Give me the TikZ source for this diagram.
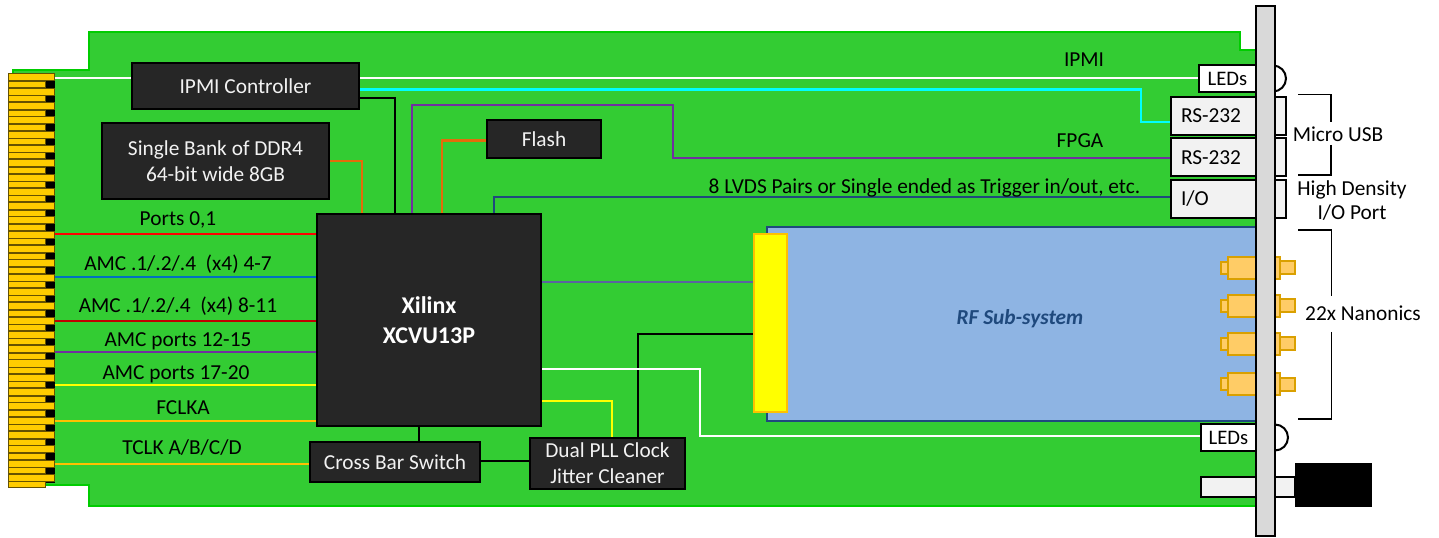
\documentclass[tikz,border=0pt]{standalone}
\usepackage{fontspec}
\setmainfont{Carlito}
\definecolor{myboard}{RGB}{51, 204, 51}
\definecolor{myedge}{RGB}{0, 204, 0}
\definecolor{mydark}{RGB}{38, 38, 38}
\definecolor{mygold}{RGB}{255, 192, 0}
\definecolor{myfinger}{RGB}{255, 204, 0}
\definecolor{mypurple}{RGB}{112, 48, 160}
\definecolor{myorange}{RGB}{228, 108, 10}
\definecolor{mynavy}{RGB}{31, 73, 125}
\definecolor{myrf}{RGB}{142, 180, 227}
\definecolor{mysma}{RGB}{255, 204, 102}
\definecolor{mysmaline}{RGB}{218, 160, 0}
\definecolor{myport}{RGB}{242, 242, 242}
\definecolor{mypanel}{RGB}{217, 217, 217}
\definecolor{mycyan}{RGB}{0, 255, 255}
\definecolor{myyellow}{RGB}{255, 255, 0}
\definecolor{myred}{RGB}{255, 0, 0}
\tikzset{every picture/.style={line width=0.75pt}}
\tikzset{
  labeltext/.style={inner sep=0.75pt,font=\fontsize{16}{19.5}\selectfont,align=center},
  darkbox/.style={draw=black,line width=1.5pt,fill=mydark,text=myport,inner sep=0pt,font=\fontsize{16}{19.5}\selectfont,align=center},
  portbox/.style={draw=black,line width=1.5pt,fill=myport,inner xsep=7.5pt,inner ysep=0pt,text width=71.25pt,align=left,minimum height=28.5pt,font=\fontsize{16}{19.5}\selectfont},
  ledbox/.style={draw=black,line width=1.5pt,fill=white,inner sep=0pt,font=\fontsize{15.5}{18}\selectfont},
  bus/.style={line width=2.1pt},
  thinbus/.style={line width=1.6pt},
  bracket/.style={line width=0.9pt},
  smapart/.style={draw=mysmaline,fill=mysma,line width=1.5pt}
}

\begin{document}
\begin{tikzpicture}[x=0.75pt,y=0.75pt,yscale=-1,xscale=1]
\useasboundingbox (0,0) rectangle (1439,538);

%Shape: Board
\draw [draw=myedge,fill=myboard,line width=2pt] (13,70) -- (89,70) -- (89,32) -- (1240,32) -- (1240,50) -- (1260,50) -- (1260,506) -- (89,506) -- (89,485) -- (13,485) -- cycle ;

%Shape: Card edge
\draw (31,278.5) node [draw=black,fill=black,minimum width=34.5pt,minimum height=306.5pt,inner sep=0pt] (cardedge) {};
\foreach \y in {74,88.3,...,475} {
  \draw [draw=black!60!myfinger,fill=myfinger] (8,\y) rectangle (54,\y+7);
  \draw [draw=black!60!myfinger,fill=myfinger] (8,\y+7.5) rectangle (45,\y+13.5);
}

%Shape: RF board
\draw (1011.5,324) node [draw=mynavy,fill=myrf,line width=1.5pt,minimum width=366.75pt,minimum height=145.5pt,inner sep=0pt] (rf) {};
\draw (1020,319) node [labeltext,text=mynavy,font=\fontsize{16}{19.5}\selectfont\bfseries\itshape] (rflabel) {RF Sub-system};
\draw (770.5,323) node [draw=mygold,fill=myyellow,line width=1.9pt,minimum width=24.75pt,minimum height=133.5pt,inner sep=0pt] (rfconn) {};

%Shape: SMA connectors
\foreach \y in {268,306,344,384} {
  \draw [smapart] (1220.5,\y-6) rectangle (1228,\y+6);
  \draw [smapart] (1228,\y-11) rectangle (1258,\y+11);
  \draw [smapart] (1273,\y-11) rectangle (1280,\y+11);
  \draw [smapart] (1280,\y-6.5) rectangle (1295,\y+6.5);
}

%Shape: Blocks
\draw (429,320) node [darkbox,minimum width=168pt,minimum height=159pt] (fpga) {};
\draw (245.5,86) node [darkbox,minimum width=170.25pt,minimum height=34.5pt] (ipmi) {IPMI Controller};
\draw (215.5,161) node [darkbox,minimum width=170.25pt,minimum height=57pt] (ddr) {Single Bank of DDR4\\64-bit wide 8GB};
\draw (544,139) node [darkbox,minimum width=85.5pt,minimum height=28.5pt] (flash) {Flash};
\draw (395,462) node [darkbox,minimum width=127.5pt,minimum height=30pt] (xbar) {Cross Bar Switch};
\draw (607.5,463.5) node [darkbox,minimum width=116.25pt,minimum height=38.25pt] (pll) {Dual PLL Clock\\Jitter Cleaner};

%Shape: LEDs and ports
\draw [line width=1.5pt,fill=white] (1273,78.5) circle [radius=13];
\draw [line width=1.5pt,fill=white] (1275,437.5) circle [radius=13];
\draw (1227.5,78.5) node [ledbox,minimum width=42.75pt,minimum height=20.25pt] (ledtop) {LEDs};
\draw (1228.5,437.5) node [ledbox,minimum width=41.25pt,minimum height=20.25pt] (ledbot) {LEDs};
\draw (1228.5,116) node [portbox] (rsa) {RS-232};
\draw (1228.5,157.5) node [portbox] (rsb) {RS-232};
\draw (1228.5,199) node [portbox] (iop) {I/O};

%Shape: Latch
\draw (1248,487) node [draw=black,fill=myport,line width=1.1pt,minimum width=70.5pt,minimum height=15pt,inner sep=0pt] (latch) {};
\draw (1333.5,484.5) node [draw=black,fill=black,minimum width=57pt,minimum height=32.25pt,inner sep=0pt] (handle) {};

%Straight Lines: edge to FPGA
\draw [bus,white] (cardedge.east |- 0,78) -- (ipmi.west |- 0,78) ;
\draw [bus,myred] (cardedge.east |- 0,234) -- (fpga.west |- 0,234) ;
\draw [bus,color={rgb, 255:red, 0; green, 112; blue, 192}] (cardedge.east |- 0,277) -- (fpga.west |- 0,277) ;
\draw [bus,color={rgb, 255:red, 192; green, 0; blue, 0}] (cardedge.east |- 0,321) -- (fpga.west |- 0,321) ;
\draw [bus,mypurple] (cardedge.east |- 0,352) -- (fpga.west |- 0,352) ;
\draw [bus,myyellow] (cardedge.east |- 0,385) -- (fpga.west |- 0,385) ;
\draw [bus,mygold] (cardedge.east |- 0,421) -- (fpga.west |- 0,421) ;
\draw [bus,mygold] (cardedge.east |- 0,464) -- (xbar.west |- 0,464) ;

%Straight Lines: blocks to FPGA
\draw [bus,myorange] (ddr.east |- 0,161) -| (fpga.north -| 362,0) ;
\draw [bus,black] (ipmi.east |- 0,98) -| (fpga.north -| 395,0) ;
\draw [bus,myorange] (flash.west |- 0,140.5) -| (fpga.north -| 442,0) ;
\draw [bus,black] (fpga.south -| 419,0) -- (xbar.north -| 419,0) ;
\draw [bus,black] (xbar.east |- 0,461) -- (pll.west |- 0,461) ;
\draw [thinbus,color={rgb, 255:red, 90; green, 100; blue, 160}] (fpga.east |- 0,282) -- (rfconn.west |- 0,282) ;
\draw [bus,black] (pll.north -| 638,0) |- (rfconn.west |- 0,334) ;
\draw [thinbus,myyellow] (fpga.east |- 0,401) -| (pll.north -| 612,0) ;

%Straight Lines: to the front panel
\draw [bus,white] (ipmi.east |- 0,78) -- (ledtop.west |- 0,78) ;
\draw [thinbus,mycyan] (ipmi.east |- 0,89.5) -- (1141,89.5) |- (rsa.west |- 0,122) ;
\draw [thinbus,mypurple] (fpga.north -| 412,0) |- (673,105) |- (rsb.west |- 0,158) ;
\draw [thinbus,mynavy] (fpga.north -| 494,0) |- (iop.west |- 0,197) ;
\draw [bus,white] (fpga.east |- 0,369) -- (700,369) |- (ledbot.west |- 0,436) ;

%Shape: Front panel
\draw (1265.5,271) node [draw=black,fill=mypanel,line width=1.5pt,minimum width=14.25pt,minimum height=397.5pt,inner sep=0pt] (panel) {};

%Straight Lines: brackets
\coordinate (usbtop) at (1298,94.5);
\coordinate (usbbot) at (1298,175);
\coordinate (nanotop) at (1298,230);
\coordinate (nanobot) at (1298,419);
\draw [bracket] (usbtop) -| (1331,122) ;
\draw [bracket] (1331,145) |- (usbbot) ;
\draw [bracket] (nanotop) -| (1331.5,296) ;
\draw [bracket] (1331.5,332) |- (nanobot) ;

% Text Node
\draw (178,220) node [labeltext] (lblports) {Ports 0,1};
% Text Node
\draw (178,264) node [labeltext] (lblamca) {AMC .1/.2/.4\ \ (x4) 4-7};
% Text Node
\draw (178,306) node [labeltext] (lblamcb) {AMC .1/.2/.4\ \ (x4) 8-11};
% Text Node
\draw (178,341) node [labeltext] (lblamcc) {AMC ports 12-15};
% Text Node
\draw (176,374) node [labeltext] (lblamcd) {AMC ports 17-20};
% Text Node
\draw (183,408) node [labeltext] (lblfclk) {FCLKA};
% Text Node
\draw (182,448) node [labeltext] (lbltclk) {TCLK A/B/C/D};
% Text Node
\draw (1084,60) node [labeltext] (lblipmi) {IPMI};
% Text Node
\draw (1080,141) node [labeltext] (lblfpga) {FPGA};
% Text Node
\draw (924.5,188) node [labeltext] (lbllvds) {8 LVDS Pairs or Single ended as Trigger in/out, etc.};
% Text Node
\draw (429,320) node [labeltext,text=white,font=\fontsize{18}{22.5}\selectfont\bfseries] (lblfpgab) {Xilinx\\XCVU13P};
% Text Node
\draw (1338,134) node [labeltext] (lblusb) {Micro USB};
% Text Node
\draw (1352,201) node [labeltext,font=\fontsize{16}{18}\selectfont] (lblhd) {High Density\\I/O Port};
% Text Node
\draw (1363,313) node [labeltext] (lblnano) {22x Nanonics};

\end{tikzpicture}
\end{document}
